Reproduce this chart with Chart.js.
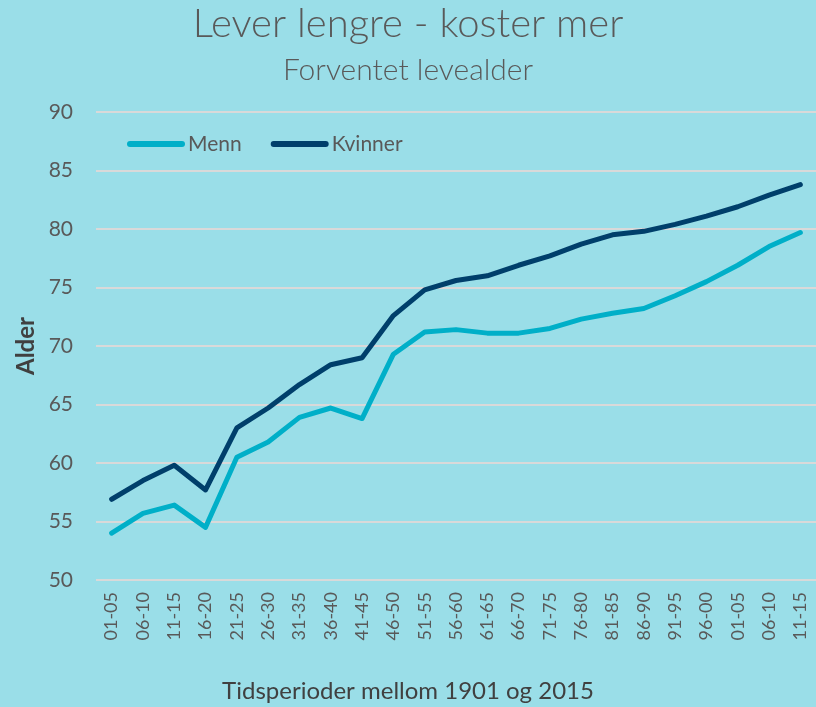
<!DOCTYPE html>
<html>
<head>
<meta charset="utf-8">
<script src="https://cdn.jsdelivr.net/npm/chart.js@4.4.1/dist/chart.umd.min.js"></script>
<style>
  html, body { margin: 0; padding: 0; background: #9adee8; }
  #wrap { width: 816px; height: 707px; }
</style>
</head>
<body>
<div id="wrap"><canvas id="lifeChart" width="816" height="707"></canvas></div>
<script>
// Periods (5-year spans, 1901-2015)
const periods = ['01-05', '06-10', '11-15', '16-20', '21-25', '26-30', '31-35', '36-40', '41-45', '46-50',
  '51-55', '56-60', '61-65', '66-70', '71-75', '76-80', '81-85', '86-90', '91-95', '96-00',
  '01-05', '06-10', '11-15'];

// Forventet levealder
const menn = [54.0, 55.7, 56.4, 54.5, 60.5, 61.8, 63.9, 64.7, 63.8, 69.3, 71.2, 71.4, 71.1, 71.1, 71.5, 72.3,
  72.8, 73.2, 74.3, 75.5, 76.9, 78.5, 79.7];
const kvinner = [56.9, 58.5, 59.8, 57.7, 63.0, 64.7, 66.7, 68.4, 69.0, 72.6, 74.8, 75.6, 76.0, 76.9, 77.7, 78.7,
  79.5, 79.8, 80.4, 81.1, 81.9, 82.9, 83.8];

const yMin = 50;
const yMax = 90;
const yStep = 5;

const FONT = "'Lato', 'Open Sans', sans-serif";
const GREY = '#595959';

// Legend drawn inside the plot, horizontally
const insideLegend = {
    id: 'insideLegend',
    afterDraw(chart) {
        const ctx = chart.ctx;
        const area = chart.chartArea;
        let x = area.left + 34;
        const y = area.top + 32;
        ctx.save();
        ctx.font = "21px " + FONT;
        ctx.textBaseline = 'middle';
        ctx.textAlign = 'left';
        chart.data.datasets.forEach(ds => {
            ctx.strokeStyle = ds.borderColor;
            ctx.lineWidth = 6;
            ctx.lineCap = 'round';
            ctx.beginPath();
            ctx.moveTo(x, y);
            ctx.lineTo(x + 52, y);
            ctx.stroke();
            ctx.fillStyle = GREY;
            ctx.fillText(ds.label, x + 58, y);
            x += 58 + ctx.measureText(ds.label).width + 32;
        });
        ctx.restore();
    }
};

// X axis title, centred on the whole canvas like the original
const xTitle = {
    id: 'xTitle',
    afterDraw(chart) {
        const ctx = chart.ctx;
        ctx.save();
        ctx.font = "24px " + FONT;
        ctx.fillStyle = '#404040';
        ctx.textAlign = 'center';
        ctx.textBaseline = 'alphabetic';
        ctx.fillText('Tidsperioder mellom 1901 og 2015', chart.width / 2, 699);
        ctx.restore();
    }
};

const ctx = document.getElementById('lifeChart').getContext('2d');

new Chart(ctx, {
    type: 'line',
    data: {
        labels: periods,
        datasets: [
            {
                label: 'Menn',
                data: menn,
                borderColor: '#00afc8',
                borderWidth: 5,
                borderCapStyle: 'round',
                borderJoinStyle: 'round',
                pointRadius: 0,
                tension: 0
            },
            {
                label: 'Kvinner',
                data: kvinner,
                borderColor: '#003f6b',
                borderWidth: 5,
                borderCapStyle: 'round',
                borderJoinStyle: 'round',
                pointRadius: 0,
                tension: 0
            }
        ]
    },
    options: {
        responsive: false,
        animation: false,
        layout: { padding: 0 },
        scales: {
            x: {
                offset: true,
                grid: { display: false, drawTicks: false },
                border: { display: false },
                ticks: {
                    autoSkip: false,
                    minRotation: 90,
                    maxRotation: 90,
                    padding: 12,
                    color: GREY,
                    font: { family: FONT, size: 18 }
                },
                afterFit(scale) {
                    scale.height = 127;
                    scale.paddingLeft = 0;
                    scale.paddingRight = 0;
                }
            },
            y: {
                min: yMin,
                max: yMax,
                grid: { color: '#d9d9d9', lineWidth: 2, drawTicks: false },
                border: { display: false },
                ticks: {
                    stepSize: yStep,
                    padding: 23,
                    color: GREY,
                    font: { family: FONT, size: 21 }
                },
                title: {
                    display: true,
                    text: 'Alder',
                    color: '#404040',
                    padding: { top: 12, bottom: 0 },
                    font: { family: FONT, size: 24, weight: 'bold' }
                },
                afterFit(scale) { scale.width = 96; }
            }
        },
        plugins: {
            legend: { display: false },
            tooltip: { enabled: false },
            title: {
                display: true,
                text: 'Lever lengre - koster mer',
                color: GREY,
                padding: { top: 0, bottom: 0 },
                font: { family: FONT, size: 40, weight: 300 }
            },
            subtitle: {
                display: true,
                text: 'Forventet levealder',
                color: GREY,
                padding: { top: 4, bottom: 24 },
                font: { family: FONT, size: 30, weight: 300 }
            }
        }
    },
    plugins: [insideLegend, xTitle]
});
</script>
</body>
</html>
